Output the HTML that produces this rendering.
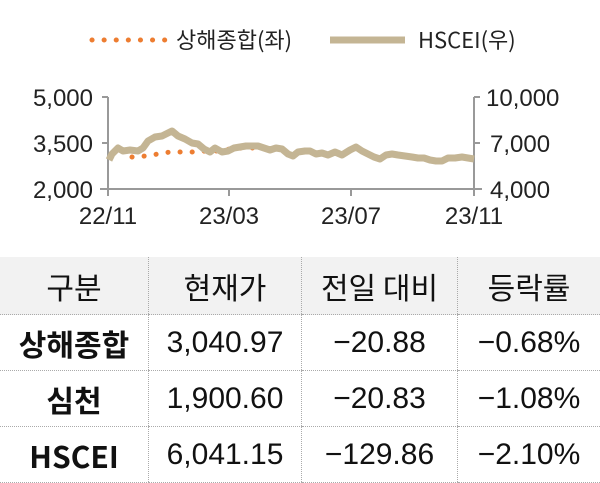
<!DOCTYPE html>
<html><head><meta charset="utf-8"><style>
body{margin:0;width:600px;height:480px;background:#fff;font-family:"Liberation Sans","Noto Sans CJK KR",sans-serif;overflow:hidden;position:relative}
svg{position:absolute;left:0;top:0}
table{position:absolute;left:0;top:257px;width:600px;border-collapse:collapse;font-family:"Noto Sans CJK KR",sans-serif}
td{height:55px;text-align:center;font-size:30px;color:#111;border-bottom:1px dotted #aaa;border-left:1px dotted #aaa;padding:0;font-family:"Liberation Sans","Noto Sans CJK KR",sans-serif}
td:first-child{border-left:none;font-weight:bold;font-family:"Noto Sans CJK KR",sans-serif}
tr.h td{background:#f2f2f2;height:57px;font-weight:normal;font-family:"Noto Sans CJK KR",sans-serif}
tr.h td:first-child{font-weight:normal}
</style></head><body>
<svg width="600" height="257" font-family="Liberation Sans, Noto Sans CJK KR, sans-serif">
<line x1="92" y1="40" x2="165" y2="40" stroke="#ed7d31" stroke-width="5" stroke-dasharray="0.1 12" stroke-linecap="round"/>
<text x="176" y="48" font-size="22" fill="#222" font-family="Noto Sans CJK KR, sans-serif">상해종합(좌)</text>
<line x1="330" y1="40" x2="405" y2="40" stroke="#c4b594" stroke-width="7"/>
<text x="418" y="48" font-size="22" fill="#222" font-family="Noto Sans CJK KR, sans-serif">HSCEI(우)</text>
<g stroke="#999" stroke-width="2" fill="none">
<line x1="108" y1="97" x2="108" y2="190"/><line x1="102" y1="97" x2="108" y2="97"/><line x1="102" y1="143" x2="108" y2="143"/>
<line x1="474" y1="97" x2="474" y2="190"/><line x1="474" y1="97" x2="480" y2="97"/><line x1="474" y1="143" x2="480" y2="143"/>
<line x1="100" y1="189" x2="482" y2="189"/>
<line x1="108" y1="189" x2="108" y2="196"/><line x1="229" y1="189" x2="229" y2="196"/><line x1="351" y1="189" x2="351" y2="196"/><line x1="474" y1="189" x2="474" y2="196"/>
</g>
<g font-size="24" fill="#222">
<text x="93" y="106" text-anchor="end">5,000</text><text x="93" y="152" text-anchor="end">3,500</text><text x="93" y="198" text-anchor="end">2,000</text>
<text x="486" y="106">10,000</text><text x="490" y="152">7,000</text><text x="490" y="198">4,000</text>
<text x="108" y="224" text-anchor="middle">22/11</text><text x="229" y="224" text-anchor="middle">23/03</text><text x="351" y="224" text-anchor="middle">23/07</text><text x="474" y="224" text-anchor="middle">23/11</text>
</g>
<polyline points="132,157 145,156 158,154 170,152 182,152 194,152 206,151 218,151 230,149 242,148 254,148" fill="none" stroke="#ed7d31" stroke-width="5" stroke-dasharray="0.1 12" stroke-linecap="round"/>
<polyline points="109,160 112,154 118,148 123,151 130,150 138,151 143,148 148,141 155,137 162,136 168,133 172,131 178,136 185,139 192,143 198,144 204,149 210,152 215,148 222,152 228,151 234,148 240,147 246,146 252,146 258,146 264,148 270,150 276,148 282,149 288,154 293,156 298,152 305,151 310,151 316,154 322,153 328,155 335,152 342,155 350,150 356,147 362,151 368,154 374,157 380,159 386,155 392,154 398,155 405,156 412,157 418,158 424,158 430,160 436,161 442,161 448,158 455,158 462,157 468,158 474,159" fill="none" stroke="#c4b594" stroke-width="7" stroke-linejoin="round"/>
</svg>
<table>
<tr class="h"><td style="width:148px">구분</td><td style="width:152px">현재가</td><td style="width:155px">전일 대비</td><td>등락률</td></tr>
<tr><td>상해종합</td><td>3,040.97</td><td>−20.88</td><td>−0.68%</td></tr>
<tr><td>심천</td><td>1,900.60</td><td>−20.83</td><td>−1.08%</td></tr>
<tr><td>HSCEI</td><td>6,041.15</td><td>−129.86</td><td>−2.10%</td></tr>
</table>
</body></html>
